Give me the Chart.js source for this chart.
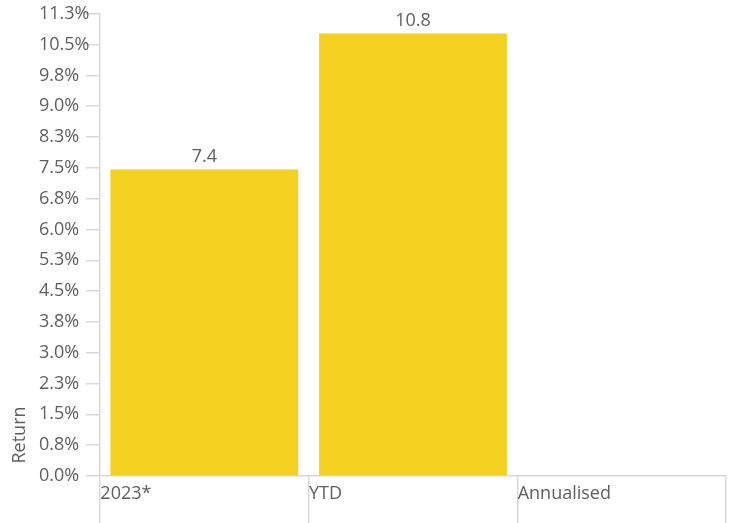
<!DOCTYPE html>
<html>
<head>
<meta charset="utf-8">
<script src="https://cdn.jsdelivr.net/npm/chart.js@4"></script>
<style>
  html, body { margin: 0; padding: 0; background: #fff; }
  #wrap { width: 731px; height: 523px; }
</style>
</head>
<body>
<div id="wrap"><canvas id="c" width="731" height="523"></canvas></div>
<script>
const categories = ['2023*', 'YTD', 'Annualised'];
const returns = [7.46, 10.77, null];
const valueLabels = ['7.4', '10.8', ''];
const yTitle = 'Return';
const yMin = 0, yMax = 11.25, yStep = 0.75;

const FONT = "'Open Sans', 'Noto Sans', sans-serif";
const TEXT = '#5f5f5f';
const LINE = '#d9d9d9';
const BAR = '#F4D021';

const valueLabelPlugin = {
  id: 'valueLabels',
  afterDatasetsDraw(chart) {
    const ctx = chart.ctx;
    const meta = chart.getDatasetMeta(0);
    ctx.save();
    ctx.font = '18px ' + FONT;
    ctx.fillStyle = TEXT;
    ctx.textAlign = 'center';
    ctx.textBaseline = 'bottom';
    meta.data.forEach((bar, i) => {
      if (returns[i] == null) return;
      ctx.fillText(valueLabels[i], bar.x, bar.y - 4);
    });
    ctx.restore();
  }
};

const yTitlePlugin = {
  id: 'yTitle',
  afterDraw(chart) {
    const ctx = chart.ctx;
    ctx.save();
    ctx.font = '18px ' + FONT;
    ctx.fillStyle = TEXT;
    ctx.textAlign = 'center';
    ctx.textBaseline = 'middle';
    ctx.translate(20, 435);
    ctx.rotate(-Math.PI / 2);
    ctx.fillText(yTitle, 0, 0);
    ctx.restore();
  }
};

new Chart(document.getElementById('c'), {
  type: 'bar',
  data: {
    labels: categories,
    datasets: [{
      data: returns,
      backgroundColor: BAR,
      borderWidth: 0,
      barPercentage: 0.9,
      categoryPercentage: 1.0
    }]
  },
  options: {
    responsive: false,
    animation: false,
    layout: { padding: { left: 39, right: 5, top: 13, bottom: 0 } },
    plugins: { legend: { display: false }, tooltip: { enabled: false } },
    scales: {
      x: {
        grid: { offset: true, drawOnChartArea: false, tickLength: 47, color: LINE, lineWidth: 1.5 },
        border: { color: LINE, width: 1.5 },
        ticks: {
          align: 'start',
          labelOffset: -104,
          padding: -40,
          color: TEXT,
          font: { family: FONT, size: 18 },
          maxRotation: 0,
          autoSkip: false
        },
        afterFit(scale) { scale.height = 47; }
      },
      y: {
        min: yMin,
        max: yMax,
        grid: { drawOnChartArea: false, tickLength: 14, color: LINE, lineWidth: 1.5 },
        border: { color: LINE, width: 1.5 },
        ticks: {
          stepSize: yStep,
          crossAlign: 'far',
          color: TEXT,
          font: { family: FONT, size: 18 },
          callback: (v) => v.toFixed(1) + '%'
        },
        afterFit(scale) { scale.width = 61; }
      }
    }
  },
  plugins: [valueLabelPlugin, yTitlePlugin]
});
</script>
</body>
</html>
